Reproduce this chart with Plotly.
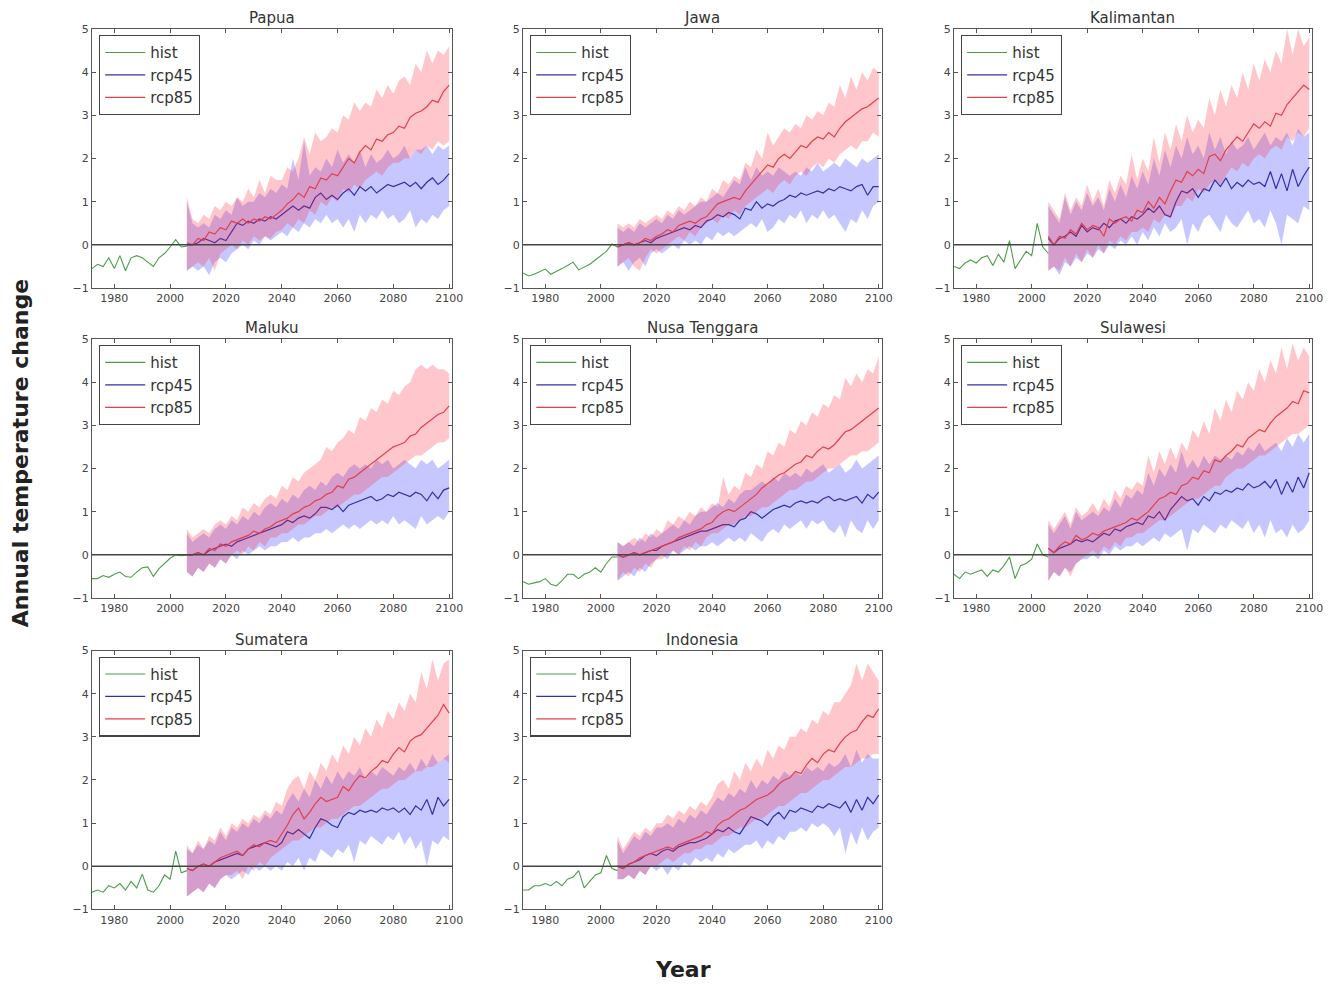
import plotly.graph_objects as go

HIST_YEARS = list(range(1972, 2007, 2))
RCP_YEARS = list(range(2006, 2101, 2))
X_TICKS = [1980, 2000, 2020, 2040, 2060, 2080, 2100]
Y_TICKS = [-1, 0, 1, 2, 3, 4, 5]

# ---------------- Papua ----------------
PAPUA_HIST = [-0.55, -0.45, -0.50, -0.30, -0.55, -0.25, -0.60, -0.30, -0.25,
              -0.30, -0.40, -0.50, -0.30, -0.20, -0.05, 0.12, -0.05, -0.03]
PAPUA_R85 = [0.05, 0.00, 0.15, 0.10, 0.30, 0.25, 0.40, 0.35,
             0.55, 0.50, 0.60, 0.50, 0.60, 0.55, 0.65, 0.60,
             0.70, 0.80, 0.95, 1.05, 1.20, 1.10, 1.35, 1.30,
             1.55, 1.50, 1.65, 1.60, 1.80, 2.00, 1.90, 2.15,
             2.30, 2.20, 2.45, 2.40, 2.55, 2.60, 2.75, 2.70,
             2.95, 3.05, 3.10, 3.20, 3.35, 3.30, 3.55, 3.70]
PAPUA_R85_HI = [1.1, 0.6, 0.5, 0.7, 0.6, 0.9, 0.8, 1.0,
                0.9, 1.1, 1.0, 1.3, 1.1, 1.5, 1.2, 1.6,
                1.5, 1.5, 1.8, 1.7, 2.0, 2.5, 2.1, 2.6,
                2.4, 2.5, 2.7, 2.6, 3.0, 2.9, 3.3, 3.1,
                3.3, 3.2, 3.6, 3.4, 3.7, 3.5, 3.8, 3.9,
                3.7, 4.2, 4.0, 4.5, 4.2, 4.5, 4.4, 4.6]
PAPUA_R85_LO = [-0.6, -0.5, -0.4, -0.5, -0.3, -0.6, -0.2, -0.1,
                0.0, -0.1, 0.1, 0.0, 0.2, 0.1, 0.2, 0.15,
                0.3, 0.35, 0.5, 0.4, 0.6, 0.5, 0.8, 0.7,
                1.0, 0.9, 1.1, 1.0, 1.3, 1.2, 1.4, 1.3,
                1.5, 1.6, 1.7, 1.6, 1.8, 1.9, 1.9, 2.0,
                2.0, 2.2, 2.1, 2.3, 2.2, 2.4, 2.3, 2.4]
PAPUA_R45 = [0.00, 0.00, 0.05, 0.15, 0.10, 0.05, 0.15, 0.10,
             0.30, 0.50, 0.45, 0.55, 0.50, 0.60, 0.55, 0.65,
             0.60, 0.70, 0.80, 0.90, 0.80, 0.90, 0.85, 1.10,
             1.20, 1.05, 1.15, 1.05, 1.20, 1.30, 1.15, 1.35,
             1.25, 1.35, 1.20, 1.30, 1.40, 1.35, 1.40, 1.45,
             1.35, 1.45, 1.30, 1.45, 1.55, 1.40, 1.50, 1.65]
PAPUA_R45_HI = [1.0, 0.5, 0.4, 0.5, 0.4, 0.7, 0.6, 0.8,
                0.7, 1.1, 0.9, 1.0, 1.0, 1.2, 1.1, 1.3,
                1.2, 1.4, 1.3, 2.0, 1.5, 2.4, 1.6, 1.8,
                1.7, 2.0, 1.8, 2.2, 1.9, 2.1, 1.9, 2.2,
                1.8, 2.1, 1.9, 2.0, 2.2, 2.0, 2.1, 2.3,
                2.0, 2.2, 2.2, 2.3, 2.1, 2.3, 2.2, 2.3]
PAPUA_R45_LO = [-0.6, -0.5, -0.6, -0.5, -0.7, -0.4, -0.3, -0.4,
                -0.2, -0.1, 0.0, -0.1, 0.1, 0.0, 0.2, 0.1,
                0.2, 0.3, 0.2, 0.4, 0.3, 0.5, 0.4, 0.6,
                0.5, 0.7, 0.5, 0.6, 0.4, 0.6, 0.3, 0.7,
                0.5, 0.7, 0.6, 0.8, 0.6, 0.7, 0.5, 0.6,
                0.8, 0.4, 0.6, 0.5, 0.7, 0.6, 0.8, 0.9]

# ---------------- Jawa ----------------
JAWA_HIST = [-0.65, -0.72, -0.68, -0.62, -0.56, -0.68, -0.62, -0.55, -0.48,
             -0.40, -0.58, -0.52, -0.45, -0.35, -0.25, -0.15, 0.02, -0.05]
JAWA_R85 = [-0.05, 0.00, 0.05, 0.00, 0.05, 0.15, 0.10, 0.20,
            0.25, 0.35, 0.30, 0.45, 0.50, 0.55, 0.50, 0.60,
            0.65, 0.80, 0.95, 1.00, 1.05, 1.10, 1.05, 1.25,
            1.40, 1.55, 1.70, 1.85, 1.80, 2.00, 2.10, 2.00,
            2.15, 2.30, 2.25, 2.40, 2.50, 2.45, 2.60, 2.50,
            2.70, 2.85, 2.95, 3.05, 3.15, 3.20, 3.30, 3.40]
JAWA_R85_HI = [0.5, 0.4, 0.5, 0.4, 0.6, 0.5, 0.6, 0.7,
               0.6, 0.8, 0.7, 0.9, 0.8, 1.0, 0.9, 1.1,
               1.0, 1.3, 1.2, 1.5, 1.4, 1.6, 1.5, 1.9,
               1.8, 2.2, 2.0, 2.6, 2.3, 2.5, 2.7, 2.6,
               2.8, 2.7, 3.0, 2.9, 3.1, 3.0, 3.3, 3.2,
               3.7, 3.4, 3.9, 3.6, 4.0, 3.8, 4.1, 4.0]
JAWA_R85_LO = [-0.5, -0.4, -0.3, -0.5, -0.6, -0.3, -0.1, -0.2,
               -0.1, 0.0, 0.1, 0.2, 0.1, 0.3, 0.2, 0.4,
               0.5, 0.6, 0.5, 0.7, 0.6, 0.8, 0.7, 0.9,
               1.0, 1.1, 1.2, 1.3, 1.2, 1.4, 1.5, 1.4,
               1.6, 1.7, 1.6, 1.8, 1.9, 1.8, 2.0, 1.9,
               2.1, 2.2, 2.3, 2.2, 2.4, 2.4, 2.6, 2.5]
JAWA_R45 = [-0.05, 0.00, 0.05, 0.00, 0.05, 0.10, 0.05, 0.15,
            0.20, 0.25, 0.30, 0.35, 0.40, 0.35, 0.45, 0.40,
            0.55, 0.60, 0.70, 0.65, 0.75, 0.70, 0.60, 0.85,
            0.80, 1.00, 0.85, 0.95, 0.90, 1.00, 1.05, 1.15,
            1.10, 1.20, 1.15, 1.20, 1.25, 1.20, 1.30, 1.25,
            1.35, 1.30, 1.25, 1.35, 1.40, 1.15, 1.35, 1.35]
JAWA_R45_HI = [0.4, 0.3, 0.4, 0.3, 0.5, 0.4, 0.5, 0.6,
               0.5, 0.7, 0.6, 0.8, 0.7, 0.8, 0.9, 1.0,
               1.0, 1.1, 1.2, 1.1, 1.3, 1.5, 1.4, 1.8,
               1.5, 1.8, 1.6, 1.7, 1.6, 1.8, 1.7, 1.6,
               1.7, 1.6, 1.8, 1.7, 1.9, 1.7, 1.8, 1.9,
               1.8, 2.0, 1.9, 1.8, 2.0, 1.9, 2.0, 2.1]
JAWA_R45_LO = [-0.5, -0.4, -0.6, -0.4, -0.3, -0.5, -0.2, -0.1,
               -0.2, -0.1, 0.0, -0.1, 0.1, 0.0, 0.1, 0.0,
               0.2, 0.1, 0.3, 0.2, 0.3, 0.2, 0.3, 0.4,
               0.5, 0.4, 0.6, 0.3, 0.4, 0.6, 0.5, 0.7,
               0.6, 0.8, 0.5, 0.7, 0.6, 0.8, 0.6, 0.7,
               0.5, 0.3, 0.6, 0.5, 0.8, 0.6, 0.9, 1.0]

# ---------------- Kalimantan ----------------
KALI_HIST = [-0.50, -0.55, -0.42, -0.35, -0.42, -0.30, -0.25, -0.48, -0.22,
             -0.40, 0.10, -0.55, -0.35, -0.15, -0.25, 0.50, -0.05, -0.20]
KALI_R85 = [0.20, 0.00, 0.20, 0.15, 0.35, 0.25, 0.50, 0.35,
            0.45, 0.40, 0.20, 0.60, 0.50, 0.60, 0.65, 0.55,
            0.80, 0.75, 1.00, 0.85, 1.10, 0.95, 1.25, 1.50,
            1.45, 1.70, 1.60, 1.75, 1.65, 2.05, 2.10, 1.95,
            2.20, 2.35, 2.50, 2.40, 2.60, 2.80, 2.70, 2.85,
            2.75, 3.05, 3.00, 3.25, 3.40, 3.55, 3.70, 3.60]
KALI_R85_HI = [1.0, 0.8, 0.6, 1.2, 0.8, 1.1, 0.9, 1.4,
               1.0, 1.3, 0.9, 1.5, 1.2, 1.6, 1.4, 2.1,
               1.5, 2.0, 1.7, 2.5, 1.9, 2.6, 2.2, 2.8,
               2.4, 3.0, 2.6, 2.9, 2.7, 3.4, 3.0, 3.6,
               3.2, 3.7, 3.4, 4.0, 3.6, 4.2, 3.8, 4.3,
               4.0, 4.5, 4.2, 5.0, 4.4, 5.0, 4.6, 4.8]
KALI_R85_LO = [-0.6, -0.5, -0.6, -0.3, -0.5, -0.2, -0.4, -0.1,
               -0.3, 0.0, -0.2, 0.1, 0.0, 0.2, 0.1, 0.3,
               0.3, 0.4, 0.3, 0.6, 0.5, 0.7, 0.6, 0.9,
               0.9, 1.1, 1.0, 1.3, 1.2, 1.4, 1.5, 1.4,
               1.6, 1.8, 1.7, 1.9, 1.8, 2.0, 2.1, 2.0,
               2.2, 2.3, 2.2, 2.5, 2.4, 2.6, 2.5, 2.7]
KALI_R45 = [0.15, 0.00, 0.15, 0.20, 0.30, 0.20, 0.45, 0.30,
            0.40, 0.35, 0.50, 0.40, 0.55, 0.60, 0.50, 0.65,
            0.60, 0.70, 0.85, 0.75, 0.90, 0.70, 0.65, 1.00,
            1.25, 1.20, 1.30, 1.10, 1.30, 1.25, 1.50, 1.35,
            1.55, 1.30, 1.45, 1.35, 1.50, 1.40, 1.45, 1.35,
            1.70, 1.30, 1.65, 1.25, 1.75, 1.35, 1.60, 1.80]
KALI_R45_HI = [0.9, 0.7, 0.5, 1.1, 0.7, 1.0, 0.8, 1.2,
               0.9, 1.1, 0.8, 1.3, 1.0, 1.4, 1.1, 1.6,
               1.3, 1.7, 1.4, 2.0, 1.6, 2.2, 1.8, 2.3,
               2.0, 2.5, 2.1, 2.3, 2.0, 2.6, 2.2, 2.5,
               2.1, 2.4, 2.2, 2.3, 2.5, 2.2, 2.4, 2.6,
               2.3, 2.5, 2.4, 2.6, 2.3, 2.7, 2.5, 2.6]
KALI_R45_LO = [-0.6, -0.5, -0.7, -0.4, -0.5, -0.3, -0.4, -0.2,
               -0.3, -0.1, -0.2, 0.0, -0.1, 0.1, 0.0, 0.2,
               0.0, 0.3, 0.1, 0.4, 0.2, 0.5, 0.3, 0.4,
               0.6, 0.0, 0.5, 0.3, 0.6, 0.7, 0.5, 0.3,
               0.7, 0.5, 0.4, 0.6, 0.8, 0.5, 0.6, 0.4,
               0.8, 0.5, 0.0, 0.7, 0.6, 0.5, 0.9, 0.8]

# ---------------- Maluku ----------------
MALUKU_HIST = [-0.55, -0.55, -0.48, -0.52, -0.45, -0.40, -0.50, -0.52, -0.40,
               -0.30, -0.28, -0.50, -0.32, -0.20, -0.08, 0.00, -0.02, 0.00]
MALUKU_R85 = [0.00, 0.00, 0.05, 0.00, 0.15, 0.10, 0.25, 0.20,
              0.30, 0.35, 0.40, 0.45, 0.55, 0.50, 0.60, 0.65,
              0.75, 0.80, 0.85, 0.95, 1.00, 1.10, 1.15, 1.25,
              1.30, 1.40, 1.45, 1.60, 1.55, 1.75, 1.80, 1.90,
              2.00, 2.10, 2.20, 2.30, 2.40, 2.50, 2.55, 2.60,
              2.75, 2.80, 2.95, 3.05, 3.15, 3.25, 3.30, 3.45]
MALUKU_R85_HI = [0.6, 0.4, 0.5, 0.6, 0.5, 0.7, 0.8, 0.7,
                 0.9, 0.8, 1.1, 1.0, 1.2, 1.1, 1.3, 1.4,
                 1.3, 1.6, 1.5, 1.8, 1.7, 1.9, 2.0, 2.1,
                 2.2, 2.5, 2.4, 2.6, 2.7, 2.9, 2.8, 3.2,
                 3.1, 3.4, 3.3, 3.6, 3.5, 3.8, 3.7, 3.9,
                 4.0, 4.3, 4.4, 4.3, 4.4, 4.3, 4.3, 4.2]
MALUKU_R85_LO = [-0.4, -0.5, -0.3, -0.4, -0.2, -0.3, -0.1, -0.2,
                 0.0, 0.1, 0.0, 0.2, 0.1, 0.3, 0.2, 0.4,
                 0.4, 0.5, 0.5, 0.6, 0.7, 0.7, 0.8, 0.9,
                 0.9, 1.0, 1.1, 1.1, 1.2, 1.3, 1.4, 1.4,
                 1.5, 1.6, 1.7, 1.8, 1.8, 1.9, 2.0, 2.1,
                 2.2, 2.3, 2.3, 2.4, 2.5, 2.6, 2.6, 2.7]
MALUKU_R45 = [0.00, 0.00, 0.05, 0.00, 0.10, 0.15, 0.20, 0.25,
              0.20, 0.30, 0.35, 0.40, 0.45, 0.50, 0.55, 0.60,
              0.65, 0.70, 0.80, 0.75, 0.85, 0.90, 0.85, 0.95,
              1.10, 1.10, 1.05, 1.15, 1.00, 1.15, 1.20, 1.25,
              1.30, 1.35, 1.25, 1.30, 1.40, 1.35, 1.45, 1.40,
              1.35, 1.45, 1.40, 1.25, 1.45, 1.30, 1.50, 1.55]
MALUKU_R45_HI = [0.5, 0.3, 0.4, 0.5, 0.4, 0.6, 0.7, 0.6,
                 0.8, 0.7, 0.9, 0.8, 1.0, 0.9, 1.1, 1.2,
                 1.1, 1.3, 1.2, 1.4, 1.3, 1.5, 1.6, 1.5,
                 1.7, 1.6, 1.8, 1.9, 1.8, 2.0, 2.1, 2.0,
                 2.1, 2.0, 2.2, 2.1, 2.2, 2.0, 2.1, 2.2,
                 2.1, 2.0, 2.2, 2.1, 2.2, 2.0, 2.1, 2.2]
MALUKU_R45_LO = [-0.4, -0.5, -0.3, -0.4, -0.2, -0.3, -0.1, -0.2,
                 0.0, -0.1, 0.1, 0.0, 0.1, 0.2, 0.1, 0.2,
                 0.2, 0.3, 0.3, 0.4, 0.3, 0.4, 0.4, 0.5,
                 0.5, 0.6, 0.5, 0.6, 0.7, 0.6, 0.7, 0.6,
                 0.7, 0.8, 0.7, 0.8, 0.7, 0.9, 0.7, 0.8,
                 0.7, 0.6, 0.9, 0.7, 0.8, 0.9, 0.8, 1.0]

# ---------------- Nusa Tenggara ----------------
NUSA_HIST = [-0.62, -0.68, -0.65, -0.62, -0.55, -0.68, -0.72, -0.60, -0.45,
             -0.45, -0.55, -0.45, -0.40, -0.30, -0.40, -0.20, -0.05, -0.05]
NUSA_R85 = [0.00, -0.05, 0.00, 0.05, 0.00, 0.05, 0.10, 0.15,
            0.20, 0.25, 0.30, 0.40, 0.45, 0.50, 0.55, 0.60,
            0.70, 0.75, 0.90, 1.00, 1.05, 1.00, 1.10, 1.20,
            1.30, 1.40, 1.55, 1.65, 1.75, 1.85, 1.90, 2.00,
            2.10, 2.15, 2.30, 2.25, 2.40, 2.50, 2.45, 2.55,
            2.70, 2.85, 2.90, 3.00, 3.10, 3.20, 3.30, 3.40]
NUSA_R85_HI = [0.3, 0.2, 0.3, 0.4, 0.3, 0.5, 0.4, 0.6,
               0.5, 0.8, 0.7, 0.9, 0.8, 1.0, 0.9, 1.1,
               1.0, 1.2, 1.1, 1.8, 1.4, 1.6, 1.5, 1.9,
               1.8, 2.1, 2.0, 2.4, 2.3, 2.6, 2.5, 2.9,
               2.8, 3.1, 3.0, 3.3, 3.2, 3.5, 3.4, 3.7,
               3.6, 4.1, 3.9, 4.2, 4.0, 4.3, 4.2, 4.6]
NUSA_R85_LO = [-0.6, -0.4, -0.5, -0.3, -0.4, -0.2, -0.3, -0.1,
               -0.1, 0.0, 0.1, 0.0, 0.2, 0.1, 0.3, 0.2,
               0.4, 0.5, 0.5, 0.6, 0.7, 0.7, 0.8, 0.9,
               0.9, 1.0, 1.1, 1.1, 1.2, 1.3, 1.4, 1.5,
               1.5, 1.6, 1.7, 1.7, 1.8, 1.9, 2.0, 2.0,
               2.1, 2.2, 2.3, 2.3, 2.4, 2.4, 2.5, 2.6]
NUSA_R45 = [0.00, -0.05, 0.00, 0.05, 0.00, 0.05, 0.10, 0.10,
            0.20, 0.25, 0.30, 0.35, 0.40, 0.45, 0.50, 0.55,
            0.55, 0.60, 0.65, 0.70, 0.70, 0.65, 0.80, 0.85,
            1.00, 0.95, 0.85, 0.95, 1.05, 1.10, 1.15, 1.10,
            1.20, 1.25, 1.20, 1.25, 1.20, 1.30, 1.35, 1.25,
            1.30, 1.25, 1.30, 1.35, 1.20, 1.40, 1.30, 1.45]
NUSA_R45_HI = [0.3, 0.2, 0.3, 0.2, 0.4, 0.3, 0.5, 0.4,
               0.5, 0.6, 0.7, 0.6, 0.8, 0.7, 0.9, 1.0,
               1.0, 1.1, 1.2, 1.1, 1.3, 1.2, 1.4, 1.5,
               1.5, 1.6, 1.7, 1.6, 1.8, 1.7, 1.9, 1.8,
               1.9, 1.8, 2.0, 1.9, 2.0, 2.1, 1.9, 2.0,
               2.1, 1.9, 2.0, 2.2, 2.0, 2.1, 2.2, 2.3]
NUSA_R45_LO = [-0.6, -0.5, -0.4, -0.5, -0.3, -0.4, -0.2, -0.1,
               0.0, -0.1, 0.1, 0.0, 0.1, 0.2, 0.1, 0.2,
               0.2, 0.3, 0.2, 0.3, 0.4, 0.3, 0.4, 0.3,
               0.5, 0.4, 0.3, 0.5, 0.6, 0.5, 0.7, 0.6,
               0.7, 0.8, 0.6, 0.8, 0.7, 0.8, 0.6, 0.5,
               0.7, 0.4, 0.8, 0.6, 0.5, 0.8, 0.6, 0.8]

# ---------------- Sulawesi ----------------
SULA_HIST = [-0.45, -0.55, -0.40, -0.45, -0.40, -0.35, -0.50, -0.35, -0.40,
             -0.25, -0.05, -0.55, -0.25, -0.20, -0.10, 0.25, 0.00, -0.05]
SULA_R85 = [0.15, 0.05, 0.20, 0.30, 0.25, 0.45, 0.35, 0.40,
            0.50, 0.45, 0.55, 0.60, 0.65, 0.70, 0.75, 0.85,
            0.80, 0.90, 1.00, 1.15, 1.30, 1.35, 1.45, 1.40,
            1.60, 1.65, 1.80, 1.75, 1.95, 1.90, 2.20, 2.15,
            2.30, 2.40, 2.55, 2.50, 2.70, 2.80, 2.90, 2.85,
            3.05, 3.20, 3.30, 3.40, 3.55, 3.50, 3.80, 3.75]
SULA_R85_HI = [0.8, 0.6, 0.8, 1.0, 0.7, 1.1, 0.9, 1.0,
               1.2, 1.0, 1.3, 1.1, 1.5, 1.3, 1.6, 1.5,
               1.7, 1.6, 2.3, 1.9, 2.4, 2.1, 2.5, 2.2,
               2.6, 2.4, 2.9, 2.7, 3.1, 2.8, 3.4, 3.1,
               3.6, 3.3, 3.8, 3.6, 4.0, 3.8, 4.3, 4.0,
               4.5, 4.2, 4.8, 4.3, 4.9, 4.5, 4.8, 4.6]
SULA_R85_LO = [-0.6, -0.4, -0.5, -0.3, -0.5, -0.2, -0.1, 0.0,
               0.1, 0.0, 0.2, 0.1, 0.3, 0.2, 0.4, 0.4,
               0.5, 0.5, 0.6, 0.7, 0.8, 0.8, 0.9, 1.0,
               1.1, 1.2, 1.3, 1.3, 1.4, 1.5, 1.6, 1.6,
               1.8, 1.9, 2.0, 2.0, 2.1, 2.2, 2.3, 2.3,
               2.4, 2.5, 2.6, 2.7, 2.8, 2.8, 2.9, 3.0]
SULA_R45 = [0.15, 0.05, 0.15, 0.20, 0.25, 0.35, 0.30, 0.35,
            0.30, 0.40, 0.50, 0.45, 0.60, 0.55, 0.65, 0.70,
            0.75, 0.70, 0.90, 0.85, 1.00, 0.80, 1.05, 1.20,
            1.35, 1.25, 1.30, 1.15, 1.35, 1.25, 1.45, 1.40,
            1.50, 1.45, 1.55, 1.50, 1.65, 1.55, 1.60, 1.70,
            1.55, 1.75, 1.40, 1.70, 1.45, 1.80, 1.55, 1.90]
SULA_R45_HI = [0.7, 0.5, 0.7, 0.9, 0.6, 1.0, 0.8, 0.9,
               1.0, 0.9, 1.1, 1.0, 1.3, 1.1, 1.4, 1.3,
               1.5, 1.4, 1.9, 1.6, 2.0, 1.8, 2.1, 1.9,
               2.4, 2.0, 2.2, 2.0, 2.3, 2.1, 2.3, 2.2,
               2.3, 2.2, 2.4, 2.3, 2.5, 2.4, 2.6, 2.4,
               2.5, 2.6, 2.4, 2.7, 2.5, 2.8, 2.6, 2.8]
SULA_R45_LO = [-0.6, -0.4, -0.5, -0.3, -0.4, -0.2, -0.1, -0.1,
               0.0, -0.1, 0.1, 0.0, 0.2, 0.1, 0.2, 0.2,
               0.3, 0.2, 0.3, 0.4, 0.3, 0.5, 0.4, 0.5,
               0.6, 0.1, 0.6, 0.5, 0.7, 0.6, 0.5, 0.7,
               0.6, 0.8, 0.7, 0.6, 0.8, 0.5, 0.7, 0.4,
               0.8, 0.5, 0.6, 0.4, 0.7, 0.5, 0.6, 0.8]

# ---------------- Sumatera ----------------
SUMA_HIST = [-0.60, -0.55, -0.60, -0.45, -0.50, -0.40, -0.55, -0.35, -0.50,
             -0.18, -0.55, -0.60, -0.45, -0.20, -0.30, 0.35, -0.15, -0.10]
SUMA_R85 = [-0.05, -0.10, 0.00, 0.05, 0.00, 0.10, 0.20, 0.25,
            0.30, 0.35, 0.25, 0.40, 0.50, 0.45, 0.55, 0.60,
            0.55, 0.75, 0.95, 1.20, 1.35, 1.10, 1.25, 1.45,
            1.60, 1.50, 1.55, 1.60, 1.85, 1.75, 1.95, 2.10,
            2.05, 2.20, 2.30, 2.45, 2.40, 2.60, 2.75, 2.65,
            2.90, 3.00, 3.05, 3.20, 3.35, 3.50, 3.75, 3.55]
SUMA_R85_HI = [0.5, 0.3, 0.6, 0.4, 0.7, 0.6, 0.9, 0.7,
               1.0, 0.9, 1.1, 1.0, 1.2, 1.1, 1.3, 1.2,
               1.5, 1.4, 1.8, 2.0, 2.1, 1.8, 2.2, 2.0,
               2.4, 2.2, 2.6, 2.4, 2.8, 2.6, 3.0, 2.8,
               3.2, 3.0, 3.4, 3.2, 3.6, 3.4, 3.8, 3.6,
               4.0, 3.8, 4.5, 4.1, 4.8, 4.3, 4.7, 4.8]
SUMA_R85_LO = [-0.7, -0.6, -0.5, -0.6, -0.4, -0.5, -0.3, -0.2,
               -0.2, -0.1, -0.3, 0.0, -0.1, 0.1, 0.0, 0.2,
               0.3, 0.4, 0.5, 0.6, 0.6, 0.7, 0.8, 0.9,
               0.9, 1.0, 1.1, 1.1, 1.2, 1.3, 1.4, 1.4,
               1.5, 1.6, 1.7, 1.8, 1.8, 1.9, 2.0, 2.0,
               2.1, 2.2, 2.2, 2.3, 2.3, 2.4, 2.5, 2.4]
SUMA_R45 = [-0.05, -0.10, 0.00, 0.05, 0.00, 0.10, 0.15, 0.20,
            0.25, 0.30, 0.25, 0.40, 0.45, 0.50, 0.55, 0.50,
            0.45, 0.55, 0.80, 0.75, 0.85, 0.75, 0.65, 0.90,
            1.10, 1.05, 0.95, 0.90, 1.15, 1.25, 1.20, 1.30,
            1.25, 1.30, 1.25, 1.35, 1.30, 1.35, 1.25, 1.35,
            1.20, 1.40, 1.30, 1.55, 1.20, 1.60, 1.40, 1.55]
SUMA_R45_HI = [0.4, 0.3, 0.5, 0.4, 0.6, 0.5, 0.8, 0.6,
               0.9, 0.8, 1.0, 0.9, 1.1, 1.0, 1.2, 1.1,
               1.3, 1.2, 1.5, 1.7, 1.5, 1.8, 1.6, 2.0,
               1.8, 2.1, 1.9, 2.2, 2.0, 2.2, 2.1, 2.3,
               2.0, 2.2, 2.1, 2.3, 2.2, 2.1, 2.3, 2.2,
               2.4, 2.2, 2.5, 2.3, 2.6, 2.4, 2.5, 2.6]
SUMA_R45_LO = [-0.7, -0.6, -0.5, -0.6, -0.4, -0.5, -0.3, -0.2,
               -0.3, -0.2, -0.1, -0.2, 0.0, -0.1, 0.0, -0.1,
               0.0, -0.1, 0.1, 0.0, 0.2, -0.1, 0.2, 0.1,
               0.4, 0.3, 0.2, 0.4, 0.3, 0.5, 0.1, 0.6,
               0.5, 0.7, 0.6, 0.5, 0.7, 0.6, 0.8, 0.5,
               0.7, 0.4, 0.6, 0.0, 0.6, 0.5, 0.7, 0.6]

# ---------------- Indonesia ----------------
INDO_HIST = [-0.55, -0.55, -0.45, -0.45, -0.40, -0.45, -0.35, -0.45, -0.30,
             -0.25, -0.10, -0.50, -0.35, -0.20, -0.15, 0.25, -0.05, -0.10]
INDO_R85 = [0.00, -0.05, 0.05, 0.10, 0.20, 0.25, 0.30, 0.35,
            0.40, 0.45, 0.40, 0.50, 0.55, 0.60, 0.65, 0.70,
            0.80, 0.75, 0.95, 1.05, 1.10, 1.20, 1.30, 1.35,
            1.45, 1.55, 1.60, 1.65, 1.75, 1.90, 2.00, 2.05,
            2.20, 2.15, 2.35, 2.50, 2.40, 2.60, 2.70, 2.65,
            2.85, 3.00, 3.10, 3.15, 3.35, 3.50, 3.45, 3.65]
INDO_R85_HI = [0.7, 0.4, 0.6, 0.8, 0.7, 0.9, 0.8, 1.0,
               1.0, 1.2, 1.1, 1.3, 1.2, 1.4, 1.3, 1.5,
               1.4, 1.6, 1.9, 2.0, 1.8, 2.2, 2.0, 2.4,
               2.2, 2.5, 2.3, 2.7, 2.5, 2.8, 2.7, 3.0,
               3.0, 3.2, 3.1, 3.4, 3.3, 3.6, 3.5, 3.8,
               3.8, 4.0, 4.2, 4.7, 4.3, 4.7, 4.5, 4.3]
INDO_R85_LO = [-0.3, -0.3, -0.2, -0.3, -0.1, -0.2, 0.0, 0.0,
               0.1, 0.2, 0.1, 0.2, 0.3, 0.3, 0.4, 0.4,
               0.5, 0.5, 0.6, 0.7, 0.7, 0.8, 0.9, 0.9,
               1.0, 1.1, 1.1, 1.2, 1.3, 1.4, 1.4, 1.5,
               1.6, 1.7, 1.7, 1.8, 1.9, 2.0, 2.0, 2.1,
               2.2, 2.3, 2.3, 2.4, 2.5, 2.5, 2.6, 2.6]
INDO_R45 = [0.00, -0.05, 0.05, 0.10, 0.15, 0.25, 0.30, 0.25,
            0.35, 0.40, 0.35, 0.45, 0.50, 0.55, 0.55, 0.60,
            0.65, 0.75, 0.85, 0.80, 0.90, 0.80, 0.75, 0.95,
            1.15, 1.10, 1.05, 0.95, 1.15, 1.25, 1.10, 1.30,
            1.25, 1.35, 1.30, 1.25, 1.40, 1.35, 1.45, 1.40,
            1.35, 1.50, 1.25, 1.55, 1.30, 1.60, 1.45, 1.65]
INDO_R45_HI = [0.6, 0.3, 0.5, 0.7, 0.6, 0.8, 0.7, 0.9,
               0.9, 1.0, 0.9, 1.1, 1.0, 1.2, 1.1, 1.3,
               1.2, 1.4, 1.6, 1.5, 1.7, 1.6, 1.8, 1.7,
               2.0, 1.8, 2.0, 1.9, 2.1, 2.0, 2.2, 2.1,
               2.2, 2.1, 2.3, 2.2, 2.3, 2.2, 2.4, 2.3,
               2.4, 2.6, 2.3, 2.7, 2.4, 2.6, 2.5, 2.5]
INDO_R45_LO = [-0.3, -0.3, -0.2, -0.3, -0.1, -0.2, 0.0, -0.1,
               0.0, -0.2, 0.0, -0.1, 0.1, 0.0, 0.2, 0.1,
               0.2, 0.1, 0.3, 0.2, 0.4, 0.3, 0.4, 0.5,
               0.5, 0.6, 0.4, 0.6, 0.5, 0.7, 0.6, 0.8,
               0.8, 0.9, 0.8, 1.0, 0.9, 1.0, 0.9, 0.7,
               0.9, 0.3, 0.8, 0.5, 0.9, 0.6, 0.8, 0.9]

PANELS = [
    ("Papua", PAPUA_HIST, PAPUA_R45, PAPUA_R45_LO, PAPUA_R45_HI, PAPUA_R85, PAPUA_R85_LO, PAPUA_R85_HI),
    ("Jawa", JAWA_HIST, JAWA_R45, JAWA_R45_LO, JAWA_R45_HI, JAWA_R85, JAWA_R85_LO, JAWA_R85_HI),
    ("Kalimantan", KALI_HIST, KALI_R45, KALI_R45_LO, KALI_R45_HI, KALI_R85, KALI_R85_LO, KALI_R85_HI),
    ("Maluku", MALUKU_HIST, MALUKU_R45, MALUKU_R45_LO, MALUKU_R45_HI, MALUKU_R85, MALUKU_R85_LO, MALUKU_R85_HI),
    ("Nusa Tenggara", NUSA_HIST, NUSA_R45, NUSA_R45_LO, NUSA_R45_HI, NUSA_R85, NUSA_R85_LO, NUSA_R85_HI),
    ("Sulawesi", SULA_HIST, SULA_R45, SULA_R45_LO, SULA_R45_HI, SULA_R85, SULA_R85_LO, SULA_R85_HI),
    ("Sumatera", SUMA_HIST, SUMA_R45, SUMA_R45_LO, SUMA_R45_HI, SUMA_R85, SUMA_R85_LO, SUMA_R85_HI),
    ("Indonesia", INDO_HIST, INDO_R45, INDO_R45_LO, INDO_R45_HI, INDO_R85, INDO_R85_LO, INDO_R85_HI),
]

# ---------------- styling ----------------
HIST_C = "#4a9e4a"
R45_C = "#3030ac"
R85_C = "#e0404c"
R45_FILL = "rgba(40,40,255,0.26)"
R85_FILL = "rgba(255,30,50,0.25)"
AX_C = "#555555"
TXT_C = "#333333"
BASE_FONT = "DejaVu Sans"

# panel domains (paper fractions); the page body adds an 8px offset
COL_X = [(0.0626, 0.3308), (0.3838, 0.6509), (0.7049, 0.9717)]
ROW_Y = [(0.7157, 0.9787), (0.4010, 0.6640), (0.0848, 0.3477)]

fig = go.Figure()
layout = {}
annotations = []
shapes = []

for i, (name, hist, r45, r45lo, r45hi, r85, r85lo, r85hi) in enumerate(PANELS):
    k = i + 1
    row, col = divmod(i, 3)
    s = "" if k == 1 else str(k)
    xr, yr, lg = "x" + s, "y" + s, "legend" + s
    common = dict(xaxis=xr, yaxis=yr)

    fig.add_trace(go.Scatter(x=HIST_YEARS, y=hist, mode="lines", name="hist",
                             line=dict(color=HIST_C, width=1.1),
                             legend=lg, legendgroup=f"h{k}", **common))
    fig.add_trace(go.Scatter(x=RCP_YEARS + RCP_YEARS[::-1], y=r45hi + r45lo[::-1],
                             fill="toself", fillcolor=R45_FILL, mode="lines",
                             line=dict(width=0), showlegend=False, hoverinfo="skip", **common))
    fig.add_trace(go.Scatter(x=RCP_YEARS, y=r45, mode="lines", name="rcp45",
                             line=dict(color=R45_C, width=1.2),
                             legend=lg, legendgroup=f"b{k}", **common))
    fig.add_trace(go.Scatter(x=RCP_YEARS + RCP_YEARS[::-1], y=r85hi + r85lo[::-1],
                             fill="toself", fillcolor=R85_FILL, mode="lines",
                             line=dict(width=0), showlegend=False, hoverinfo="skip", **common))
    fig.add_trace(go.Scatter(x=RCP_YEARS, y=r85, mode="lines", name="rcp85",
                             line=dict(color=R85_C, width=1.2),
                             legend=lg, legendgroup=f"r{k}", **common))

    axis_common = dict(ticks="inside", ticklen=4, tickwidth=1, tickcolor=AX_C,
                       showline=True, linecolor=AX_C, linewidth=1.3, mirror="allticks",
                       showgrid=False, zeroline=False, automargin=False,
                       tickfont=dict(family=BASE_FONT, size=11, color="#444444"))
    layout["xaxis" + s] = dict(domain=list(COL_X[col]), anchor=yr, range=[1972, 2101],
                               tickvals=X_TICKS, **axis_common)
    layout["yaxis" + s] = dict(domain=list(ROW_Y[row]), anchor=xr, range=[-1, 5],
                               tickvals=Y_TICKS, **axis_common)
    layout[lg] = dict(x=COL_X[col][0] + 0.0052, y=ROW_Y[row][1] - 0.0061,
                      xanchor="left", yanchor="top", bgcolor="white",
                      bordercolor="#444444", borderwidth=1.2,
                      font=dict(family=BASE_FONT, size=15, color=TXT_C),
                      traceorder="grouped", tracegroupgap=0, itemwidth=40)

    shapes.append(dict(type="line", xref=xr + " domain", yref=yr, x0=0, x1=1, y0=0, y1=0,
                       line=dict(color="#444444", width=1.5), layer="above"))
    annotations.append(dict(text=name, x=(COL_X[col][0] + COL_X[col][1]) / 2,
                            y=ROW_Y[row][1], xref="paper", yref="paper",
                            xanchor="center", yanchor="bottom", yshift=0, showarrow=False,
                            font=dict(family=BASE_FONT, size=15, color=TXT_C)))

annotations.append(dict(text="<b>Annual temperature change</b>", x=0.0089, y=0.548,
                        xref="paper", yref="paper", textangle=-90, showarrow=False,
                        xanchor="center", yanchor="middle",
                        font=dict(family="DejaVu Sans", size=22, color="#222222")))
annotations.append(dict(text="<b>Year</b>", x=0.503, y=0.0234,
                        xref="paper", yref="paper", showarrow=False,
                        xanchor="center", yanchor="middle",
                        font=dict(family="DejaVu Sans", size=22, color="#222222")))

fig.update_layout(width=1342, height=985, margin=dict(l=0, r=0, t=0, b=0, autoexpand=False),
                  paper_bgcolor="white", plot_bgcolor="white",
                  annotations=annotations, shapes=shapes, showlegend=True, **layout)

fig.write_html("out.html")
